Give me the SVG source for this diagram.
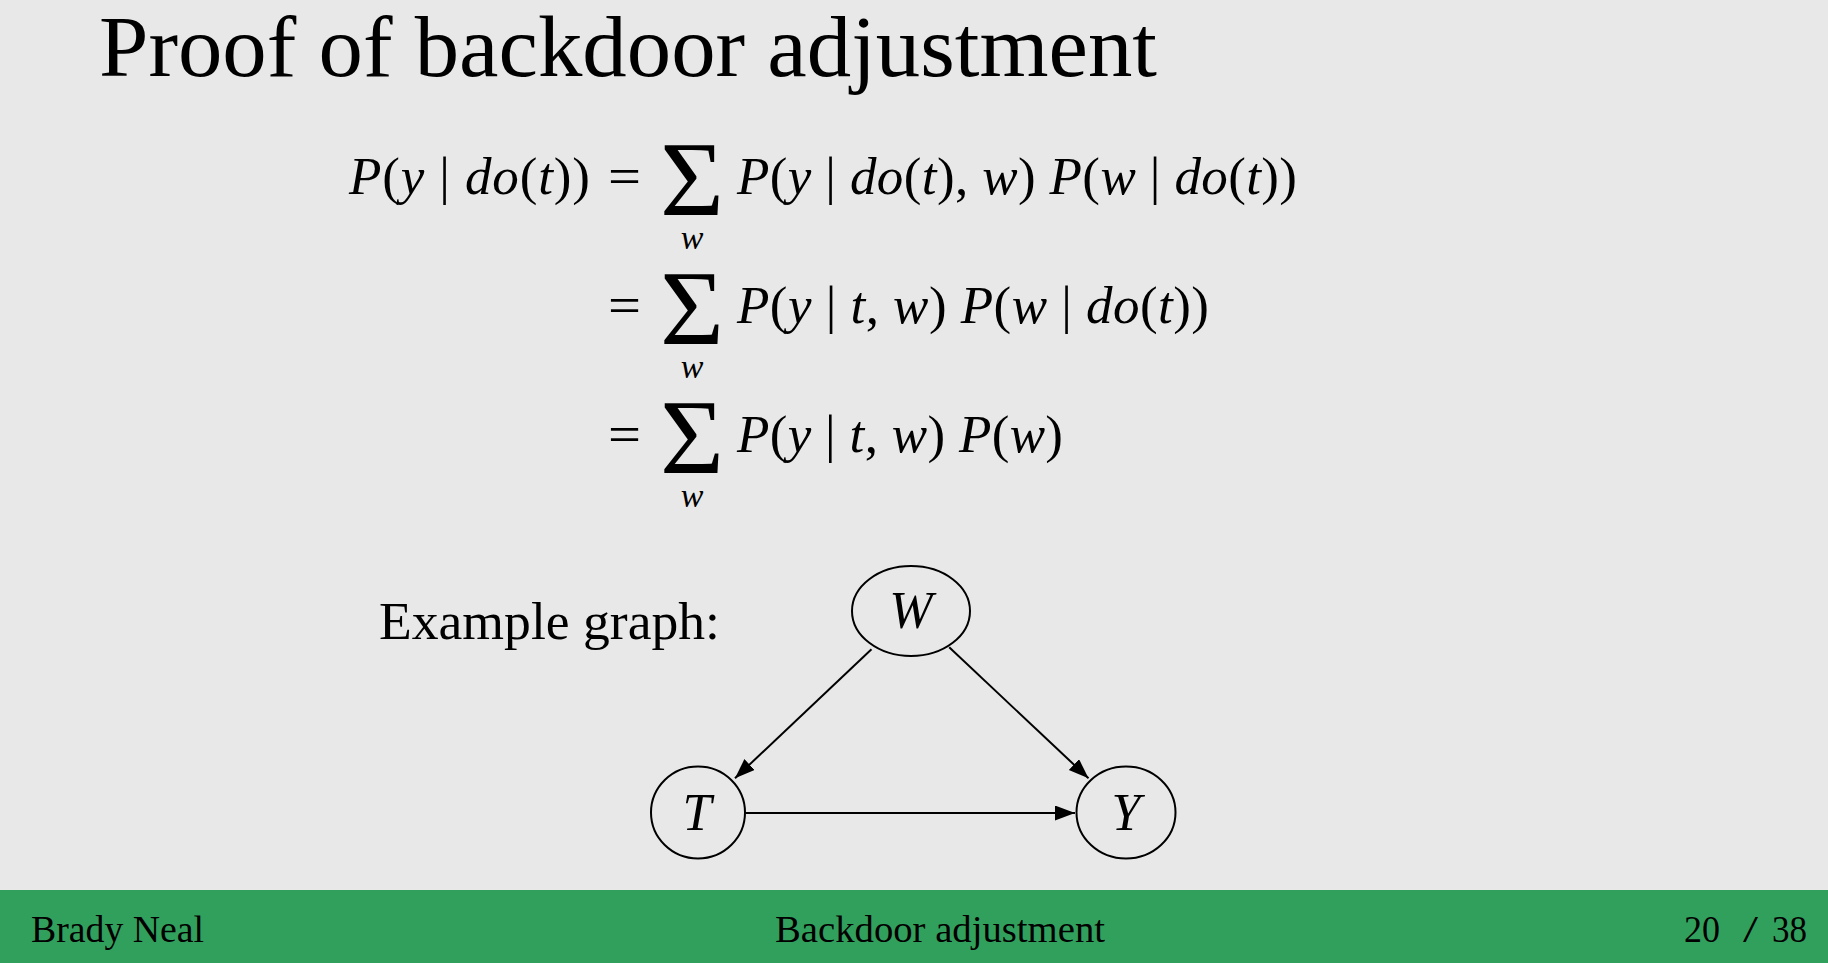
<svg xmlns="http://www.w3.org/2000/svg" width="1828" height="963" viewBox="0 0 1828 963">
<defs>
<style>
.serif{font-family:"Liberation Serif","Times New Roman",serif;fill:#000}
.m{font-family:"Liberation Serif","Times New Roman",serif;font-size:53px;fill:#000}
.i{font-style:italic}
.sum{font-family:"Liberation Serif","Times New Roman",serif;font-size:105px;fill:#000}
.sub{font-family:"Liberation Serif","Times New Roman",serif;font-size:34px;font-style:italic;fill:#000}
.node{fill:none;stroke:#000;stroke-width:2}
.lbl{font-family:"Liberation Serif","Times New Roman",serif;font-size:52px;font-style:italic;text-anchor:middle;fill:#000}
.edge{stroke:#000;stroke-width:2;fill:none}
.foot{font-family:"Liberation Serif","Times New Roman",serif;font-size:37px;fill:#000}
</style>
<marker id="arr" markerUnits="userSpaceOnUse" markerWidth="22" markerHeight="16" refX="20" refY="7.5" orient="auto">
<path d="M0,0 L20,7.5 L0,15 z" fill="#000"/>
</marker>
</defs>
<rect x="0" y="0" width="1828" height="963" fill="#e8e8e8"/>
<rect x="0" y="890" width="1828" height="73" fill="#32a05d"/>

<text class="serif" x="99" y="76" font-size="86" textLength="1058" lengthAdjust="spacingAndGlyphs">Proof of backdoor adjustment</text>

<g id="equations">
<text class="m" x="349" y="194" textLength="241" lengthAdjust="spacing"><tspan class="i">P</tspan>(<tspan class="i">y</tspan> | <tspan class="i">do</tspan>(<tspan class="i">t</tspan>))</text>
<text class="m" x="608" y="194" textLength="33" lengthAdjust="spacingAndGlyphs">=</text>
<text class="sum" x="660" y="215" textLength="64" lengthAdjust="spacingAndGlyphs">Σ</text>
<text class="sub" x="692" y="249" text-anchor="middle">w</text>
<text class="m" x="737" y="194" textLength="560" lengthAdjust="spacing"><tspan class="i">P</tspan>(<tspan class="i">y</tspan> | <tspan class="i">do</tspan>(<tspan class="i">t</tspan>), <tspan class="i">w</tspan>) <tspan class="i">P</tspan>(<tspan class="i">w</tspan> | <tspan class="i">do</tspan>(<tspan class="i">t</tspan>))</text>

<text class="m" x="608" y="323" textLength="33" lengthAdjust="spacingAndGlyphs">=</text>
<text class="sum" x="660" y="344" textLength="64" lengthAdjust="spacingAndGlyphs">Σ</text>
<text class="sub" x="692" y="378" text-anchor="middle">w</text>
<text class="m" x="737" y="323" textLength="472" lengthAdjust="spacing"><tspan class="i">P</tspan>(<tspan class="i">y</tspan> | <tspan class="i">t</tspan>, <tspan class="i">w</tspan>) <tspan class="i">P</tspan>(<tspan class="i">w</tspan> | <tspan class="i">do</tspan>(<tspan class="i">t</tspan>))</text>

<text class="m" x="608" y="452" textLength="33" lengthAdjust="spacingAndGlyphs">=</text>
<text class="sum" x="660" y="473" textLength="64" lengthAdjust="spacingAndGlyphs">Σ</text>
<text class="sub" x="692" y="507" text-anchor="middle">w</text>
<text class="m" x="737" y="452" textLength="326" lengthAdjust="spacing"><tspan class="i">P</tspan>(<tspan class="i">y</tspan> | <tspan class="i">t</tspan>, <tspan class="i">w</tspan>) <tspan class="i">P</tspan>(<tspan class="i">w</tspan>)</text>
</g>

<text class="serif" x="379" y="639" font-size="52" textLength="341" lengthAdjust="spacingAndGlyphs">Example graph:</text>

<g id="connectors">
<line class="edge" x1="871.5" y1="649.3" x2="735" y2="778.3" marker-end="url(#arr)"/>
<line class="edge" x1="949.2" y1="647.3" x2="1088.5" y2="778.3" marker-end="url(#arr)"/>
<line class="edge" x1="745.7" y1="813" x2="1075" y2="813" marker-end="url(#arr)"/>
</g>

<g id="node-W">
<ellipse class="node" cx="911" cy="611" rx="59" ry="45"/>
<text class="lbl" x="911" y="628">W</text>
</g>
<g id="node-T">
<ellipse class="node" cx="698" cy="812.5" rx="47" ry="46"/>
<text class="lbl" x="697" y="830">T</text>
</g>
<g id="node-Y">
<ellipse class="node" cx="1126" cy="812.5" rx="49.5" ry="46"/>
<text class="lbl" x="1126" y="830">Y</text>
</g>

<g id="footer">
<text class="foot" x="31" y="942" textLength="173" lengthAdjust="spacingAndGlyphs">Brady Neal</text>
<text class="foot" x="775" y="942" textLength="330" lengthAdjust="spacingAndGlyphs">Backdoor adjustment</text>
<text class="foot" x="1684" y="942" textLength="36" lengthAdjust="spacingAndGlyphs">20</text>
<text class="foot" x="1743" y="942" textLength="15" lengthAdjust="spacingAndGlyphs">/</text>
<text class="foot" x="1772" y="942" textLength="35" lengthAdjust="spacingAndGlyphs">38</text>
</g>
</svg>
